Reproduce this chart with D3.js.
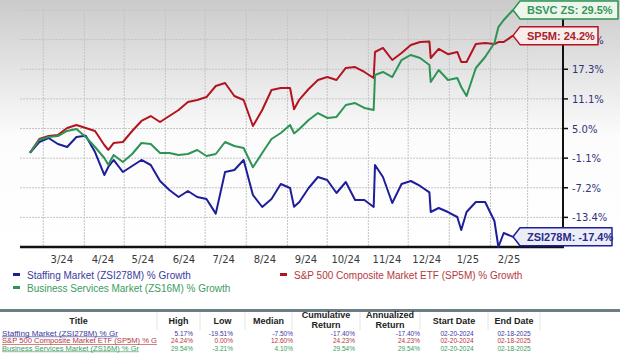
<!DOCTYPE html>
<html>
<head>
<meta charset="utf-8">
<script src="https://cdn.jsdelivr.net/npm/d3@7"></script>
<style>
  body { margin: 0; background: #fff; }
  svg { display: block; }
</style>
</head>
<body>
<svg id="chart"></svg>
<script>
// weekly samples, plus a few spike days
const dates = [
  "2024-02-20", "2024-02-27", "2024-03-05", "2024-03-12", "2024-03-19", "2024-03-26",
  "2024-04-02", "2024-04-09", "2024-04-16", "2024-04-19", "2024-04-23", "2024-04-30", "2024-05-07",
  "2024-05-14", "2024-05-21", "2024-05-28", "2024-06-04", "2024-06-11", "2024-06-18",
  "2024-06-25", "2024-07-02", "2024-07-09", "2024-07-16", "2024-07-23", "2024-07-30",
  "2024-08-06", "2024-08-13", "2024-08-20", "2024-08-27", "2024-09-03", "2024-09-06", "2024-09-10",
  "2024-09-17", "2024-09-24", "2024-10-01", "2024-10-08", "2024-10-15", "2024-10-22",
  "2024-10-29", "2024-11-05", "2024-11-06", "2024-11-12", "2024-11-19", "2024-11-26",
  "2024-12-03", "2024-12-10", "2024-12-17", "2024-12-18", "2024-12-24", "2024-12-31",
  "2025-01-07", "2025-01-10", "2025-01-14", "2025-01-21", "2025-01-28", "2025-02-04",
  "2025-02-07", "2025-02-11", "2025-02-18"
];

const staffing = [
  0, 2.22, 3.05, 1.8, 1.19, 3.26,
  3.5, 0.15, -4.6, -2.95, -1.5, -3.99, -2.75,
  -1.5, -2.54, -5.85, -7.71, -9.16, -7.92,
  -9.16, -9.58, -12.6, -3.99, -3.57, -1.5,
  -8.75, -11.23, -9.58, -6.47, -7.3, -11.2, -10.2,
  -7.3, -5.02, -5.64, -8.33, -6.06, -9.78,
  -9.78, -11.23, -2.54, -5.02, -10.4, -6.47,
  -5.85, -6.88, -8.2, -12.27, -11.44, -12.27,
  -13.3, -15.99, -12.27, -10.2, -10.2, -14.13,
  -19.51, -16.61, -17.4
];

const sp500 = [
  0, 2.85, 3.46, 3.67, 5.12, 5.74,
  5.12, 4.5, 1.6, 0.6, 2.01, 2.22, 4.5,
  6.57, 7.6, 6.36, 7.6, 8.84, 10.5,
  10.91, 11.53, 13.81, 14.43, 11.74, 10.91,
  5.53, 8.84, 12.98, 13.4, 13.4, 9.0, 11.0,
  13.19, 15.05, 15.67, 15.05, 17.54, 17.74,
  16.71, 15.47, 20.85, 21.68, 19.19, 20.64,
  22.3, 22.92, 23.0, 19.61, 21.5, 20.4,
  20.85, 18.78, 18.78, 22.5, 22.71, 22.5,
  22.9, 22.92, 24.23
];

const bizServices = [
  0, 2.64, 3.26, 3.46, 4.5, 4.91,
  3.26, 1.19, -1.09, -2.5, -0.47, -1.92, -0.26,
  2.01, 1.81, -0.06, -0.06, -0.47, -0.26,
  0.57, -0.68, -0.26, 2.22, 1.39, 0.98,
  -3.0, -0.06, 2.84, 4.08, 5.74, 4.0, 4.91,
  6.77, 8.22, 7.19, 7.4, 9.88, 10.29,
  9.26, 8.84, 16.09, 16.71, 15.67, 19.19,
  20.23, 19.61, 18.16, 14.64, 17.12, 15.05,
  15.47, 13.6, 11.74, 17.54, 19.81, 22.71,
  26.0, 27.47, 29.54
];

const yTicks = [-13.38, -7.25, -1.12, 5.01, 11.14, 17.28, 23.41, 29.54];
// the 29.5% label sits fully under the BSVC flag in the original
const yTickLabels = ["-13.4%", "-7.2%", "-1.1%", "5.0%", "11.1%", "17.3%", "23.4%", ""];

const legendNames = [
  "Staffing Market (ZSI278M) % Growth",
  "S&P 500 Composite Market ETF (SP5M) % Growth",
  "Business Services Market (ZS16M) % Growth"
];
const endLabels = ["ZSI278M: -17.4%", "SP5M: 24.2%", "BSVC ZS: 29.5%"];

// table below the chart
const tableHeaders = ["Title", "High", "Low", "Median", "Cumulative\nReturn", "Annualized\nReturn", "Start Date", "End Date"];
const tableTitles = ["Staffing Market (ZSI278M) % Gr", "S&P 500 Composite Market ETF (SP5M) % G", "Business Services Market (ZS16M) % Gr"];
const tableHigh = ["5.17%", "24.24%", "29.54%"];
const tableLow = ["-19.51%", "0.00%", "-3.21%"];
const tableMedian = ["-7.50%", "12.60%", "4.10%"];
const tableCumulative = ["-17.40%", "24.23%", "29.54%"];
const tableAnnualized = ["-17.40%", "24.23%", "29.54%"];
const tableStart = ["02-20-2024", "02-20-2024", "02-20-2024"];
const tableEnd = ["02-18-2025", "02-18-2025", "02-18-2025"];

const width = 620, height = 361;
const plot = { left: 20, right: 563, top: 10, bottom: 247 };

const parse = d3.timeParse("%Y-%m-%d");
const dateValues = dates.map(parse);

const svg = d3.select("#chart")
  .attr("width", width)
  .attr("height", height)
  .style("font-family", "'Liberation Sans', Arial, sans-serif");

const defs = svg.append("defs");
const grad = defs.append("linearGradient")
  .attr("id", "bg")
  .attr("x1", 0).attr("y1", 0).attr("x2", 0).attr("y2", 1);
grad.append("stop").attr("offset", "0%").attr("stop-color", "#cbcbcb");
grad.append("stop").attr("offset", "55%").attr("stop-color", "#fcfcfc");
grad.append("stop").attr("offset", "100%").attr("stop-color", "#ffffff");

svg.append("rect")
  .attr("width", width).attr("height", 250)
  .attr("fill", "url(#bg)");

const x = d3.scaleTime()
  .domain([dateValues[0], dateValues[dateValues.length - 1]])
  .range([30, 513]);

const y = d3.scaleLinear()
  .domain([-19.51, 29.54])
  .range([plot.bottom, plot.top]);

// grid
const monthStarts = d3.timeMonth.range(new Date(2024, 2, 1), new Date(2025, 2, 2));
svg.append("g")
  .selectAll("line")
  .data(monthStarts)
  .join("line")
  .attr("x1", d => x(d)).attr("x2", d => x(d))
  .attr("y1", plot.top).attr("y2", plot.bottom)
  .attr("stroke", "#c4c4c4")
  .attr("stroke-dasharray", "2,1");

svg.append("g")
  .selectAll("line")
  .data(yTicks)
  .join("line")
  .attr("x1", plot.left).attr("x2", plot.right)
  .attr("y1", d => y(d)).attr("y2", d => y(d))
  .attr("stroke", "#c4c4c4")
  .attr("stroke-dasharray", "2,1");

// month labels in the middle of each month
const monthMids = monthStarts.slice(0, 12).map(d => d3.timeDay.offset(d, 14));
svg.append("g")
  .selectAll("text")
  .data(monthMids)
  .join("text")
  .attr("x", d => x(d))
  .attr("y", 263)
  .attr("text-anchor", "middle")
  .attr("font-family", "'DejaVu Sans', Verdana, sans-serif")
  .attr("font-size", 10)
  .attr("fill", "#3a3a3a")
  .text(d3.timeFormat("%-m/%y"));

// right axis
svg.append("g")
  .selectAll("line")
  .data(yTicks)
  .join("line")
  .attr("x1", plot.right).attr("x2", plot.right + 5)
  .attr("y1", d => y(d)).attr("y2", d => y(d))
  .attr("stroke", "#111")
  .attr("stroke-width", 1.5);

svg.append("g")
  .selectAll("text")
  .data(yTicks)
  .join("text")
  .attr("x", plot.right + 9)
  .attr("y", d => y(d) + 4)
  .attr("font-family", "'DejaVu Sans', Verdana, sans-serif")
  .attr("font-size", 10)
  .attr("fill", "#33337a")
  .text((d, i) => yTickLabels[i]);

svg.append("line")
  .attr("x1", plot.left).attr("x2", plot.right + 1)
  .attr("y1", plot.bottom).attr("y2", plot.bottom)
  .attr("stroke", "#111").attr("stroke-width", 2.5);
svg.append("line")
  .attr("x1", plot.right).attr("x2", plot.right)
  .attr("y1", plot.top).attr("y2", plot.bottom)
  .attr("stroke", "#111").attr("stroke-width", 2);

const series = [
  { values: staffing, color: "#1e1e9a", text: "#2a2a8a", bg: "#eceef7", legend: "#3a3aa0" },
  { values: sp500, color: "#b3141f", text: "#a8222a", bg: "#f9ecec", legend: "#b5383c" },
  { values: bizServices, color: "#2c9455", text: "#35965a", bg: "#edf6ea", legend: "#3d9c60" }
];

const line = d3.line()
  .x((d, i) => x(dateValues[i]))
  .y(d => y(d));

svg.append("g")
  .selectAll("path")
  .data(series)
  .join("path")
  .attr("d", d => line(d.values))
  .attr("fill", "none")
  .attr("stroke", d => d.color)
  .attr("stroke-width", 2)
  .attr("stroke-linejoin", "round");

// end-of-line flags (they cover the top tick labels, as in the original)
const flagRight = [612, 598, 618];
series.forEach((s, i) => {
  const last = s.values[s.values.length - 1];
  const tx = x(dateValues[dateValues.length - 1]);
  const ty = y(last);
  const h = 9;
  const g = svg.append("g");
  g.append("path")
    .attr("d", `M${tx},${ty} L${tx + 7},${ty - h} L${flagRight[i]},${ty - h} L${flagRight[i]},${ty + h} L${tx + 7},${ty + h} Z`)
    .attr("fill", s.bg)
    .attr("stroke", s.color)
    .attr("stroke-width", 1.5)
    .attr("stroke-linejoin", "round");
  g.append("text")
    .attr("x", tx + 14)
    .attr("y", ty + 4)
    .attr("font-size", 11)
    .attr("font-weight", "bold")
    .attr("fill", s.text)
    .text(endLabels[i]);
});

// legend
const legendPos = [[13, 275], [280, 275], [13, 288]];
series.forEach((s, i) => {
  const [lx, ly] = legendPos[i];
  svg.append("rect")
    .attr("x", lx).attr("y", ly - 2)
    .attr("width", 7).attr("height", 3)
    .attr("fill", s.color);
  svg.append("text")
    .attr("x", lx + 14).attr("y", ly + 3.5)
    .attr("font-size", 10)
    .attr("fill", s.legend)
    .text(legendNames[i]);
});

// table
svg.append("rect")
  .attr("x", 0).attr("y", 309)
  .attr("width", width).attr("height", 3)
  .attr("fill", "#6d7d84");

const colEdges = [0, 157, 200, 245, 292, 360, 420, 488, 540];
svg.append("g")
  .selectAll("line")
  .data(colEdges.slice(1))
  .join("line")
  .attr("x1", d => d).attr("x2", d => d)
  .attr("y1", 312).attr("y2", 330)
  .attr("stroke", "#e4e4e4");

tableHeaders.forEach((h, i) => {
  const cx = (colEdges[i] + colEdges[i + 1]) / 2;
  const parts = h.split("\n");
  const t = svg.append("text")
    .attr("text-anchor", "middle")
    .attr("font-size", 9)
    .attr("font-weight", "bold")
    .attr("fill", "#222");
  parts.forEach((p, j) => {
    t.append("tspan")
      .attr("x", cx)
      .attr("y", parts.length === 1 ? 324 : 318 + j * 10)
      .text(p);
  });
});

const rowY = [335.5, 343, 350.5];
const titleWidths = [116, 155, 137];
const numCols = [
  { vals: tableHigh, x: 193, anchor: "end" },
  { vals: tableLow, x: 233, anchor: "end" },
  { vals: tableMedian, x: 293, anchor: "end" },
  { vals: tableCumulative, x: 355, anchor: "end" },
  { vals: tableAnnualized, x: 420, anchor: "end" },
  { vals: tableStart, x: 457, anchor: "middle" },
  { vals: tableEnd, x: 514, anchor: "middle" }
];

series.forEach((s, i) => {
  svg.append("text")
    .attr("x", 2).attr("y", rowY[i])
    .attr("font-size", 6.3)
    .attr("textLength", titleWidths[i])
    .attr("lengthAdjust", "spacingAndGlyphs")
    .attr("fill", s.legend)
    .attr("text-decoration", "underline")
    .text(tableTitles[i]);
  numCols.forEach(c => {
    svg.append("text")
      .attr("x", c.x).attr("y", rowY[i])
      .attr("text-anchor", c.anchor)
      .attr("font-size", 6.5)
      .attr("fill", s.legend)
      .text(c.vals[i]);
  });
});
</script>
</body>
</html>
